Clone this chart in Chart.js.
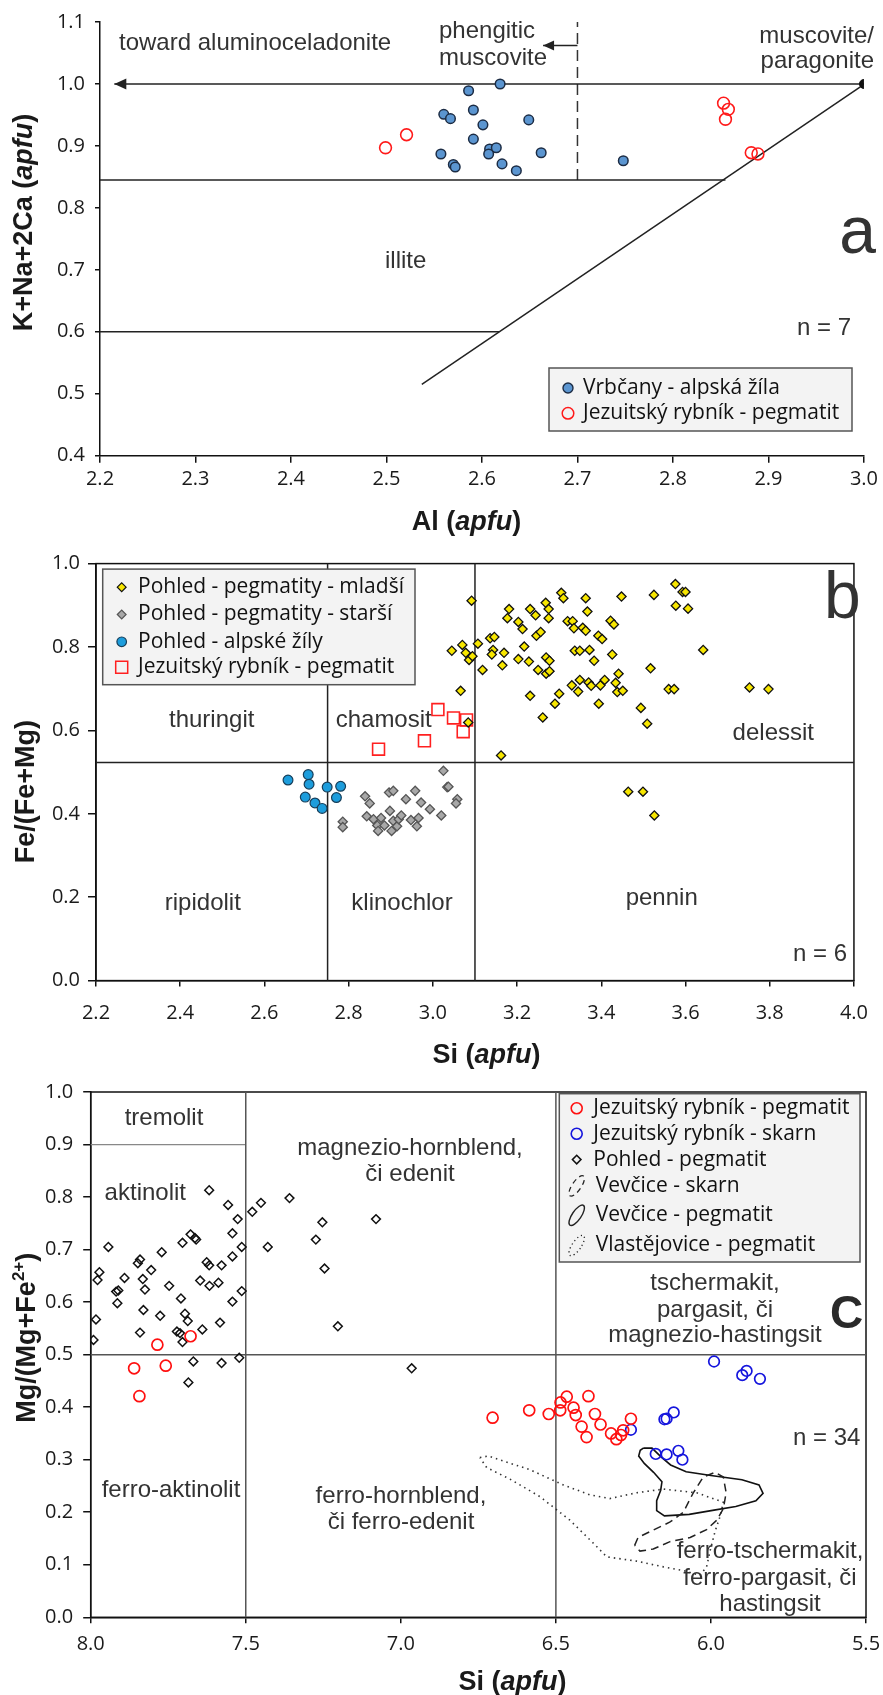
<!DOCTYPE html>
<html><head><meta charset="utf-8">
<script src="https://cdn.jsdelivr.net/npm/chart.js@4.4.0/dist/chart.umd.min.js"></script>
<style>
html,body{margin:0;padding:0;background:#fff;}
body{width:883px;height:1695px;position:relative;overflow:hidden;}
canvas{position:absolute;left:0;display:block;}
</style></head><body>
<canvas id="ca" width="883" height="540" style="top:0px"></canvas>
<canvas id="cb" width="883" height="530" style="top:540px"></canvas>
<canvas id="cc" width="883" height="625" style="top:1070px"></canvas>
<script>
// ---------------- Panel a: muscovite ----------------
const aTicksX = [2.2,2.3,2.4,2.5,2.6,2.7,2.8,2.9,3.0];
const aTicksY = [0.4,0.5,0.6,0.7,0.8,0.9,1.0,1.1];
const aVrbcany = [[2.619,1.000],[2.586,0.989],[2.591,0.958],[2.560,0.951],[2.567,0.944],[2.601,0.934],[2.649,0.942],[2.591,0.911],[2.608,0.895],[2.615,0.897],[2.607,0.887],[2.557,0.887],[2.570,0.870],[2.572,0.866],[2.621,0.871],[2.636,0.860],[2.662,0.889],[2.748,0.876]];
const aJezuitsky = [[2.499,0.897],[2.521,0.918],[2.853,0.969],[2.858,0.959],[2.855,0.943],[2.882,0.889],[2.889,0.887]];
const aEndMember = [[3.0,1.0]];
const aLineTop = [[2.215,1.0],[3.0,1.0]];
const aLineIllite = [[2.2,0.845],[2.855,0.845]];
const aLine06 = [[2.2,0.6],[2.618,0.6]];
const aDiagonal = [[2.537,0.515],[2.997,0.996]];
const aDashed = [[2.7,0.845],[2.7,1.1]];
const aPhengArrow = [[2.664,1.062],[2.7,1.062]];

// ---------------- Panel b: chlorite ----------------
const bTicksX = [2.2,2.4,2.6,2.8,3.0,3.2,3.4,3.6,3.8,4.0];
const bTicksY = [0.0,0.2,0.4,0.6,0.8,1.0];
const bMladsi = [[3.092,0.911],[3.045,0.791],[3.070,0.805],[3.078,0.786],[3.086,0.769],[3.094,0.778],[3.066,0.695],[3.084,0.619],[3.107,0.808],[3.118,0.745],[3.136,0.821],[3.146,0.824],[3.143,0.793],[3.140,0.782],[3.165,0.756],[3.169,0.786],[3.162,0.540],[3.181,0.891],[3.177,0.869],[3.203,0.860],[3.213,0.843],[3.217,0.801],[3.203,0.771],[3.228,0.765],[3.231,0.891],[3.244,0.876],[3.246,0.827],[3.256,0.836],[3.250,0.745],[3.231,0.683],[3.261,0.631],[3.268,0.906],[3.275,0.891],[3.275,0.869],[3.269,0.775],[3.277,0.767],[3.269,0.736],[3.277,0.742],[3.305,0.930],[3.310,0.917],[3.300,0.688],[3.290,0.664],[3.320,0.862],[3.332,0.862],[3.335,0.845],[3.337,0.791],[3.330,0.708],[3.345,0.693],[3.349,0.721],[3.349,0.791],[3.363,0.917],[3.367,0.885],[3.356,0.846],[3.363,0.839],[3.372,0.793],[3.383,0.767],[3.370,0.715],[3.376,0.707],[3.393,0.827],[3.402,0.819],[3.394,0.664],[3.398,0.708],[3.408,0.721],[3.422,0.863],[3.430,0.854],[3.426,0.782],[3.441,0.736],[3.434,0.714],[3.438,0.692],[3.451,0.695],[3.448,0.921],[3.494,0.654],[3.509,0.616],[3.517,0.749],[3.525,0.925],[3.560,0.699],[3.573,0.699],[3.576,0.951],[3.577,0.899],[3.593,0.932],[3.600,0.932],[3.606,0.892],[3.642,0.793],[3.752,0.703],[3.797,0.699],[3.464,0.453],[3.499,0.453],[3.526,0.396]];
const bStarsi = [[2.786,0.381],[2.786,0.368],[2.839,0.442],[2.850,0.425],[2.843,0.394],[2.859,0.387],[2.868,0.372],[2.870,0.359],[2.877,0.390],[2.885,0.372],[2.896,0.451],[2.906,0.455],[2.898,0.407],[2.902,0.359],[2.906,0.383],[2.915,0.370],[2.919,0.387],[2.925,0.396],[2.936,0.435],[2.948,0.385],[2.958,0.455],[2.962,0.370],[2.966,0.390],[2.972,0.427],[2.993,0.411],[3.020,0.396],[3.025,0.503],[3.034,0.464],[3.037,0.465],[3.058,0.435],[3.055,0.425]];
const bAlpske = [[2.656,0.481],[2.704,0.494],[2.706,0.471],[2.697,0.440],[2.720,0.426],[2.737,0.413],[2.749,0.464],[2.771,0.439],[2.781,0.466]];
const bJezuitsky = [[2.871,0.555],[2.980,0.575],[3.012,0.650],[3.049,0.630],[3.080,0.625],[3.072,0.597]];
const bLineV1 = [[2.75,0.0],[2.75,1.0]];
const bLineV2 = [[3.1,0.0],[3.1,1.0]];
const bLineH = [[2.2,0.523],[4.0,0.523]];

// ---------------- Panel c: amphibole ----------------
const cTicksX = [5.5,6.0,6.5,7.0,7.5,8.0];
const cTicksY = [0.0,0.1,0.2,0.3,0.4,0.5,0.6,0.7,0.8,0.9,1.0];
const cJezPegmatit = [[7.860,0.474],[7.843,0.421],[7.785,0.519],[7.758,0.479],[7.678,0.535],[6.704,0.380],[6.586,0.394],[6.523,0.387],[6.486,0.394],[6.485,0.409],[6.465,0.420],[6.395,0.421],[6.443,0.399],[6.436,0.385],[6.417,0.363],[6.401,0.343],[6.374,0.387],[6.356,0.367],[6.322,0.350],[6.305,0.339],[6.290,0.347],[6.283,0.356],[6.258,0.378]];
const cJezSkarn = [[5.990,0.487],[5.899,0.461],[5.885,0.469],[5.842,0.454],[6.258,0.357],[6.150,0.377],[6.143,0.378],[6.120,0.390],[6.178,0.311],[6.143,0.310],[6.105,0.317],[6.092,0.300]];
const cPohled = [[7.991,0.528],[7.983,0.567],[7.978,0.642],[7.972,0.657],[7.943,0.705],[7.914,0.598],[7.918,0.620],[7.911,0.622],[7.891,0.646],[7.848,0.674],[7.841,0.681],[7.832,0.644],[7.825,0.624],[7.830,0.585],[7.841,0.542],[7.805,0.661],[7.771,0.695],[7.776,0.574],[7.747,0.631],[7.722,0.544],[7.712,0.541],[7.704,0.524],[7.709,0.607],[7.704,0.713],[7.696,0.578],[7.687,0.564],[7.678,0.729],[7.664,0.722],[7.660,0.719],[7.669,0.487],[7.685,0.447],[7.647,0.641],[7.640,0.548],[7.626,0.676],[7.618,0.670],[7.617,0.631],[7.618,0.813],[7.588,0.637],[7.583,0.561],[7.578,0.670],[7.578,0.484],[7.557,0.785],[7.543,0.731],[7.543,0.687],[7.543,0.601],[7.526,0.758],[7.513,0.705],[7.513,0.621],[7.521,0.494],[7.479,0.772],[7.451,0.789],[7.429,0.705],[7.359,0.798],[7.274,0.719],[7.253,0.752],[7.246,0.664],[7.203,0.554],[7.080,0.758],[6.965,0.474]];
const cVevciceSkarn = [[6.246,0.137],[6.235,0.152],[6.197,0.163],[6.133,0.181],[6.089,0.200],[6.057,0.237],[6.025,0.267],[5.987,0.276],[5.960,0.267],[5.951,0.237],[5.960,0.207],[5.981,0.185],[6.014,0.167],[6.067,0.152],[6.132,0.144],[6.186,0.130],[6.229,0.126],[6.246,0.137]];
const cVevcicePegmatit = [[6.218,0.322],[6.190,0.322],[6.160,0.305],[6.130,0.290],[6.080,0.277],[6.000,0.270],[5.900,0.262],[5.845,0.252],[5.832,0.236],[5.855,0.222],[5.920,0.211],[5.990,0.204],[6.070,0.196],[6.150,0.193],[6.175,0.203],[6.175,0.222],[6.162,0.242],[6.158,0.258],[6.185,0.276],[6.215,0.293],[6.233,0.307],[6.228,0.318],[6.218,0.322]];
const cVlastejovice = [[6.745,0.304],[6.718,0.307],[6.584,0.281],[6.476,0.252],[6.390,0.233],[6.326,0.226],[6.240,0.237],[6.153,0.244],[6.046,0.237],[5.960,0.219],[5.970,0.193],[5.987,0.163],[6.003,0.126],[6.014,0.096],[6.035,0.080],[6.089,0.089],[6.153,0.096],[6.240,0.107],[6.336,0.115],[6.379,0.141],[6.455,0.185],[6.552,0.230],[6.648,0.263],[6.723,0.285],[6.745,0.304]];
const cLineV1 = [[7.5,0.0],[7.5,1.0]];
const cLineV2 = [[6.5,0.0],[6.5,1.0]];
const cLineH = [[8.0,0.5],[5.5,0.5]];
const cLineTremolit = [[8.0,0.9],[7.5,0.9]];

// ---------------- helpers ----------------
const FT = '"Open Sans", sans-serif';
const FA = '"Liberation Sans", Arial, sans-serif';
Chart.defaults.font.family = FT;

function xy(a){ return a.map(p => ({x:p[0], y:p[1]})); }
function pts(label, data, o){
  return Object.assign({type:'scatter', label, data:xy(data), showLine:false, order:0,
    pointHoverRadius:o.pointRadius, pointHoverBorderWidth:o.pointBorderWidth}, o);
}
function ln(label, data, o){
  return Object.assign({type:'scatter', label, data:xy(data), showLine:true, pointRadius:0,
    pointHoverRadius:0, fill:false, tension:0, borderWidth:1.5, borderColor:'#222', order:10, clip:false}, o || {});
}
function scales(o){
  const tk = (arr) => (s => { s.ticks = arr.slice().sort((a,b)=>a-b).map(v => ({value:v})); });
  return {
    x: { type:'linear', min:o.xmin, max:o.xmax, reverse:!!o.reverse,
      afterBuildTicks: tk(o.xticks), afterFit: s => { s.height = o.xh; },
      ticks: { callback: v => Number(v).toFixed(1), font:{size:20, family:FT}, color:'#1a1a1a', padding:o.xpad, maxRotation:0, autoSkip:false },
      grid: { drawOnChartArea:false, drawTicks:true, tickLength:o.xtl, color:'#111', lineWidth:1.5 },
      border: { display:true, color:'#111', width:1.5 } },
    y: { type:'linear', min:o.ymin, max:o.ymax,
      afterBuildTicks: tk(o.yticks), afterFit: s => { s.width = o.yw; },
      ticks: { callback: v => Number(v).toFixed(1), font:{size:20, family:FT}, color:'#1a1a1a', padding:o.ypad, autoSkip:false },
      grid: { drawOnChartArea:false, drawTicks:true, tickLength:o.ytl, color:'#111', lineWidth:1.5 },
      border: { display:true, color:'#111', width:1.5 } }
  };
}
function txt(ctx, s, x, y, o){
  o = o || {};
  ctx.save();
  ctx.font = o.font || ('24px ' + FA);
  ctx.fillStyle = o.color || '#333';
  ctx.textAlign = o.align || 'left';
  ctx.textBaseline = o.baseline || 'alphabetic';
  ctx.fillText(s, x, y);
  ctx.restore();
}
function rich(ctx, parts, x, y, rotate){
  ctx.save();
  ctx.translate(x, y);
  if (rotate) ctx.rotate(-Math.PI/2);
  let w = 0;
  parts.forEach(p => { ctx.font = p.f; w += ctx.measureText(p.t).width; });
  let cx = -w/2;
  ctx.fillStyle = '#1a1a1a'; ctx.textBaseline = 'alphabetic'; ctx.textAlign = 'left';
  parts.forEach(p => { ctx.font = p.f; ctx.fillText(p.t, cx, p.dy || 0); cx += ctx.measureText(p.t).width; });
  ctx.restore();
}
const TB = 'bold 27px ' + FA, TBI = 'italic bold 27px ' + FA, TSUP = 'bold 17px ' + FA;
function apfuTitle(name){ return [{t:name + ' (', f:TB},{t:'apfu', f:TBI},{t:')', f:TB}]; }

function marker(ctx, style, x, y, r, fill, stroke, lw){
  ctx.save();
  ctx.beginPath();
  if (style === 'circle') ctx.arc(x, y, r, 0, Math.PI*2);
  else if (style === 'rectRot') { ctx.moveTo(x-r,y); ctx.lineTo(x,y-r); ctx.lineTo(x+r,y); ctx.lineTo(x,y+r); ctx.closePath(); }
  else if (style === 'rect') { ctx.rect(x-r, y-r, 2*r, 2*r); }
  if (fill) { ctx.fillStyle = fill; ctx.fill(); }
  if (stroke) { ctx.strokeStyle = stroke; ctx.lineWidth = lw; ctx.stroke(); }
  ctx.restore();
}
function legendBox(ctx, x1, y1, x2, y2){
  ctx.save();
  ctx.fillStyle = '#f3f3f3'; ctx.fillRect(x1, y1, x2-x1, y2-y1);
  ctx.strokeStyle = '#555'; ctx.lineWidth = 1.5; ctx.strokeRect(x1, y1, x2-x1, y2-y1);
  ctx.restore();
}
function arrowLeft(ctx, x, y, len, half){
  ctx.save(); ctx.fillStyle = '#222'; ctx.beginPath();
  ctx.moveTo(x, y); ctx.lineTo(x+len, y-half); ctx.lineTo(x+len, y+half); ctx.closePath(); ctx.fill(); ctx.restore();
}
function frame(chart){
  const a = chart.chartArea, ctx = chart.ctx;
  ctx.save(); ctx.strokeStyle = '#111'; ctx.lineWidth = 1.5;
  ctx.strokeRect(a.left, a.top, a.right-a.left, a.bottom-a.top); ctx.restore();
}
const LF = '21px ' + FT;
function legendText(ctx, s, x, y){ txt(ctx, s, x, y, {font:LF, color:'#111', baseline:'middle'}); }

const common = { responsive:false, maintainAspectRatio:false, animation:false, events:[],
  plugins:{ legend:{display:false}, tooltip:{enabled:false} } };

// ---------------- Chart a ----------------
const OA = 0;
const dsA = [
  pts('Vrbčany - alpská žíla', aVrbcany, {pointStyle:'circle', pointRadius:4.8, backgroundColor:'#5b95d0', borderColor:'#1c2c44', pointBorderWidth:1.5, borderWidth:1.5}),
  pts('Jezuitský rybník - pegmatit', aJezuitsky, {pointStyle:'circle', pointRadius:5.9, backgroundColor:'rgba(0,0,0,0)', borderColor:'#ff1a1a', pointBorderWidth:1.6, borderWidth:1.6}),
  pts('muscovite/paragonite', aEndMember, {pointStyle:'circle', pointRadius:4.5, backgroundColor:'#111', borderColor:'#111', pointBorderWidth:1, borderWidth:1}),
  ln('aluminoceladonite tie-line', aLineTop),
  ln('illite upper limit', aLineIllite),
  ln('illite 0.6', aLine06),
  ln('diagonal', aDiagonal),
  ln('phengitic limit', aDashed, {borderDash:[11,6], borderColor:'#333'}),
  ln('phengitic arrow', aPhengArrow)
];
new Chart(document.getElementById('ca'), {
  type:'scatter', data:{datasets:dsA},
  options: Object.assign({}, common, {
    layout:{padding:{top:18.3, right:18, left:0, bottom:0}},
    scales: scales({xmin:2.2, xmax:3.0, xticks:aTicksX, ymin:0.4, ymax:1.1, yticks:aTicksY,
      xh:540-455.7, yw:100, xpad:5, ypad:10, xtl:7, ytl:5})
  }),
  plugins:[{ id:'extrasA', afterDraw(chart){
    const ctx = chart.ctx, xs = chart.scales.x, ys = chart.scales.y, o = OA;
    arrowLeft(ctx, xs.getPixelForValue(aLineTop[0][0]), ys.getPixelForValue(aLineTop[0][1]), 12, 5.5);
    arrowLeft(ctx, xs.getPixelForValue(aPhengArrow[0][0]), ys.getPixelForValue(aPhengArrow[0][1]), 11, 5);
    txt(ctx, 'toward aluminoceladonite', 119, 50-o);
    txt(ctx, 'phengitic', 439, 38.3-o);
    txt(ctx, 'muscovite', 439, 65-o);
    txt(ctx, 'muscovite/', 874, 42.7-o, {align:'right'});
    txt(ctx, 'paragonite', 874, 68.3-o, {align:'right'});
    txt(ctx, 'illite', 385, 268.3-o);
    txt(ctx, 'n = 7', 797, 335-o);
    txt(ctx, 'a', 857.5, 253.3-o, {font:'66px ' + FA, align:'center'});
    rich(ctx, apfuTitle('Al'), 466.5, 529.5-o, false);
    rich(ctx, apfuTitle('K+Na+2Ca'), 32, 222.5-o, true);
    legendBox(ctx, 549, 368-o, 852, 431-o);
    marker(ctx, 'circle', 568, 388-o, 5, '#5b95d0', '#1c2c44', 1.4);
    marker(ctx, 'circle', 568, 413.3-o, 5.8, null, '#ff1a1a', 1.5);
    legendText(ctx, dsA[0].label, 583, 388-o);
    legendText(ctx, dsA[1].label, 583, 413.3-o);
  }}]
});

// ---------------- Chart b ----------------
const OB = 540;
const dsB = [
  pts('Pohled - pegmatity - mladší', bMladsi, {pointStyle:'rectRot', pointRadius:4.6, backgroundColor:'#f7e600', borderColor:'#111', pointBorderWidth:1.3, borderWidth:1.3}),
  pts('Pohled - pegmatity - starší', bStarsi, {pointStyle:'rectRot', pointRadius:4.6, backgroundColor:'#a8a8a8', borderColor:'#555', pointBorderWidth:1.3, borderWidth:1.3}),
  pts('Pohled - alpské žíly', bAlpske, {pointStyle:'circle', pointRadius:4.9, backgroundColor:'#1d9ddc', borderColor:'#173f5a', pointBorderWidth:1.2, borderWidth:1.2}),
  pts('Jezuitský rybník - pegmatit', bJezuitsky, {pointStyle:'rect', pointRadius:8.4, backgroundColor:'rgba(0,0,0,0)', borderColor:'#ff2020', pointBorderWidth:1.6, borderWidth:1.6}),
  ln('Si 2.75', bLineV1),
  ln('Si 3.1', bLineV2),
  ln('Fe/(Fe+Mg) 0.523', bLineH)
];
new Chart(document.getElementById('cb'), {
  type:'scatter', data:{datasets:dsB},
  options: Object.assign({}, common, {
    layout:{padding:{top:563.6-OB, right:17.5, left:0, bottom:0}},
    scales: scales({xmin:2.2, xmax:4.0, xticks:bTicksX, ymin:0, ymax:1.0, yticks:bTicksY,
      xh:530-(980.6-OB), yw:96, xpad:15, ypad:8, xtl:6, ytl:8})
  }),
  plugins:[{ id:'extrasB',
    beforeDatasetsDraw(chart){ frame(chart); },
    afterDraw(chart){
    const ctx = chart.ctx, o = OB;
    txt(ctx, 'thuringit', 211.7, 726.5-o, {align:'center'});
    txt(ctx, 'chamosit', 383.7, 726.5-o, {align:'center'});
    txt(ctx, 'ripidolit', 202.8, 909.7-o, {align:'center'});
    txt(ctx, 'klinochlor', 402, 909.7-o, {align:'center'});
    txt(ctx, 'pennin', 661.7, 905.3-o, {align:'center'});
    txt(ctx, 'delessit', 773.3, 739.9-o, {align:'center'});
    txt(ctx, 'n = 6', 793, 960.9-o);
    txt(ctx, 'b', 842.3, 618.1-o, {font:'66px ' + FA, align:'center'});
    rich(ctx, apfuTitle('Si'), 486.5, 1063.4-o, false);
    rich(ctx, [{t:'Fe/(Fe+Mg)', f:TB}], 34, 791.7-o, true);
    legendBox(ctx, 102.7, 569.1-o, 415, 684.7-o);
    const rows = [587.2, 614.5, 641.8, 667.2];
    marker(ctx, 'rectRot', 121.7, rows[0]-o, 4.4, '#f7e600', '#111', 1.2);
    marker(ctx, 'rectRot', 121.7, rows[1]-o, 4.4, '#a8a8a8', '#555', 1.2);
    marker(ctx, 'circle', 121.7, rows[2]-o, 4.8, '#1d9ddc', '#173f5a', 1.2);
    marker(ctx, 'rect', 121.7, rows[3]-o, 6, null, '#ff2020', 1.5);
    for (let i = 0; i < 4; i++) legendText(ctx, dsB[i].label, 138, rows[i]-o);
  }}]
});

// ---------------- Chart c ----------------
const OC = 1070;
const dsC = [
  pts('Jezuitský rybník - pegmatit', cJezPegmatit, {pointStyle:'circle', pointRadius:5.5, backgroundColor:'rgba(0,0,0,0)', borderColor:'#ff1010', pointBorderWidth:1.7, borderWidth:1.7}),
  pts('Jezuitský rybník - skarn', cJezSkarn, {pointStyle:'circle', pointRadius:5.3, backgroundColor:'rgba(0,0,0,0)', borderColor:'#1515dd', pointBorderWidth:1.7, borderWidth:1.7}),
  pts('Pohled - pegmatit', cPohled, {pointStyle:'rectRot', pointRadius:4.4, backgroundColor:'rgba(0,0,0,0)', borderColor:'#111', pointBorderWidth:1.5, borderWidth:1.5}),
  ln('Vevčice - skarn', cVevciceSkarn, {borderDash:[8,5], borderColor:'#222', borderWidth:1.5, order:5}),
  ln('Vevčice - pegmatit', cVevcicePegmatit, {borderColor:'#111', borderWidth:1.6, order:5}),
  ln('Vlastějovice - pegmatit', cVlastejovice, {borderDash:[1.5,4], borderColor:'#333', borderWidth:1.6, order:5}),
  ln('Si 7.5', cLineV1, {borderColor:'#555'}),
  ln('Si 6.5', cLineV2, {borderColor:'#555'}),
  ln('Mg 0.5', cLineH, {borderColor:'#555'}),
  ln('tremolit', cLineTremolit, {borderColor:'#888', borderWidth:1.2})
];
new Chart(document.getElementById('cc'), {
  type:'scatter', data:{datasets:dsC},
  options: Object.assign({}, common, {
    layout:{padding:{top:1087.8-OC, right:17, left:0, bottom:0}},
    scales: scales({xmin:5.5, xmax:8.0, reverse:true, xticks:cTicksX, ymin:0, ymax:1.0, yticks:cTicksY,
      xh:625-(1617.3-OC), yw:90.7, xpad:9.4, ypad:10, xtl:6, ytl:7.5})
  }),
  plugins:[{ id:'extrasC',
    beforeDatasetsDraw(chart){ frame(chart); },
    afterDraw(chart){
    const ctx = chart.ctx, o = OC;
    txt(ctx, 'tremolit', 164, 1125.1-o, {align:'center'});
    txt(ctx, 'aktinolit', 145.3, 1199.6-o, {align:'center'});
    txt(ctx, 'magnezio-hornblend,', 410, 1154.5-o, {align:'center'});
    txt(ctx, 'či edenit', 410, 1180.8-o, {align:'center'});
    txt(ctx, 'ferro-aktinolit', 171, 1496.5-o, {align:'center'});
    txt(ctx, 'ferro-hornblend,', 401, 1502.7-o, {align:'center'});
    txt(ctx, 'či ferro-edenit', 401, 1529-o, {align:'center'});
    txt(ctx, 'tschermakit,', 715, 1289.5-o, {align:'center'});
    txt(ctx, 'pargasit, či', 715, 1316.5-o, {align:'center'});
    txt(ctx, 'magnezio-hastingsit', 715, 1341.8-o, {align:'center'});
    txt(ctx, 'C', 846.7, 1328.3-o, {font:'bold 46px ' + FA, align:'center', color:'#2a2a2a'});
    txt(ctx, 'n = 34', 793, 1444.7-o);
    txt(ctx, 'ferro-tschermakit,', 770, 1558.4-o, {align:'center'});
    txt(ctx, 'ferro-pargasit, či', 770, 1585.1-o, {align:'center'});
    txt(ctx, 'hastingsit', 770, 1611.4-o, {align:'center'});
    rich(ctx, apfuTitle('Si'), 512.5, 1689.8-o, false);
    rich(ctx, [{t:'Mg/(Mg+Fe', f:TB},{t:'2+', f:TSUP, dy:-11},{t:')', f:TB}], 35, 1337.8-o, true);
    legendBox(ctx, 559.3, 1093.7-o, 860, 1262-o);
    const rows = [1108.2, 1133.7, 1159.6, 1185.9, 1215.3, 1245.5];
    const mx = 576.7;
    marker(ctx, 'circle', mx, rows[0]-o, 5.5, null, '#ff1010', 1.6);
    marker(ctx, 'circle', mx, rows[1]-o, 5.5, null, '#1515dd', 1.6);
    marker(ctx, 'rectRot', mx, rows[2]-o, 4.3, null, '#111', 1.5);
    const ell = (y, dash, lw) => { ctx.save(); ctx.strokeStyle = '#222'; ctx.lineWidth = lw; ctx.setLineDash(dash);
      ctx.beginPath(); ctx.ellipse(mx, y, 4.5, 12, 0.6, 0, Math.PI*2); ctx.stroke(); ctx.restore(); };
    ell(rows[3]-o, [5,4], 1.3);
    ell(rows[4]-o, [], 1.4);
    ell(rows[5]-o, [1.2,3], 1.3);
    const tx = [593.3, 593.3, 593.3, 595.7, 595.7, 595.7];
    for (let i = 0; i < 6; i++) legendText(ctx, dsC[i].label, tx[i], rows[i]-o);
  }}]
});
</script>
</body></html>
